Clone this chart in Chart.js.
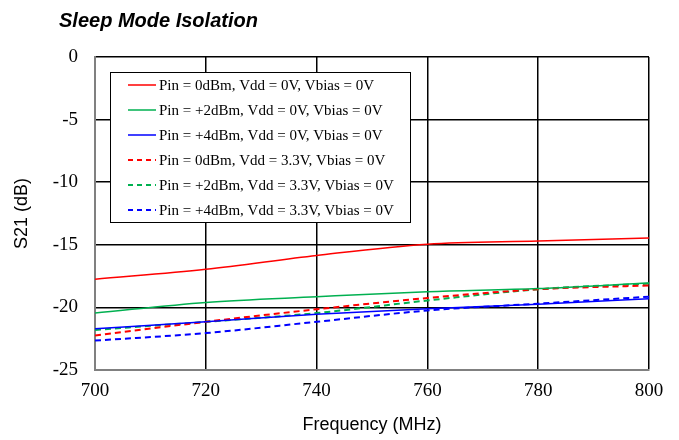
<!DOCTYPE html>
<html>
<head>
<meta charset="utf-8">
<script src="https://cdn.jsdelivr.net/npm/chart.js@4.4.1/dist/chart.umd.min.js"></script>
<style>
  html, body { margin: 0; padding: 0; background: #fff; }
  #wrap { width: 679px; height: 440px; position: relative; }
</style>
</head>
<body>
<div id="wrap"><canvas id="sleepChart"></canvas></div>
<script>
// Frequency (MHz)
const freqs = [700, 720, 740, 760, 780, 800];
const yTicks = [0, -5, -10, -15, -20, -25];

// S21 (dB)
const pin0Vdd0 = [-17.75, -16.95, -15.85, -14.95, -14.7, -14.45];
const pin2Vdd0 = [-20.45, -19.6, -19.15, -18.75, -18.5, -18.05];
const pin4Vdd0 = [-21.7, -21.15, -20.55, -20.1, -19.75, -19.3];
const pin0Vdd33 = [-22.25, -21.15, -20.15, -19.25, -18.55, -18.25];
const pin2Vdd33 = [-21.8, -21.15, -20.45, -19.45, -18.55, -18.1];
const pin4Vdd33 = [-22.65, -22.05, -21.15, -20.25, -19.7, -19.15];

const seriesLabels = [
    'Pin = 0dBm, Vdd = 0V, Vbias = 0V',
    'Pin = +2dBm, Vdd = 0V, Vbias = 0V',
    'Pin = +4dBm, Vdd = 0V, Vbias = 0V',
    'Pin = 0dBm, Vdd = 3.3V, Vbias = 0V',
    'Pin = +2dBm, Vdd = 3.3V, Vbias = 0V',
    'Pin = +4dBm, Vdd = 3.3V, Vbias = 0V'
];

const RED = '#ff0000', GREEN = '#00b050', BLUE = '#0000ff';

function makeSet(label, values, color, dashed) {
    return {
        label: label,
        data: values.map((v, i) => ({ x: freqs[i], y: v })),
        borderColor: color,
        backgroundColor: color,
        borderWidth: dashed ? 2 : 1.5,
        borderDash: dashed ? [6, 4] : [],
        pointRadius: 0,
        cubicInterpolationMode: 'monotone',
        fill: false
    };
}

// title, axis titles and the boxed legend
const decorPlugin = {
    id: 'decor',
    afterDraw(chart) {
        const ctx = chart.ctx;
        const area = chart.chartArea;
        ctx.save();
        ctx.fillStyle = '#000';
        ctx.font = 'italic bold 20px "Liberation Sans", Arial, sans-serif';
        ctx.textAlign = 'left';
        ctx.textBaseline = 'alphabetic';
        ctx.fillText('Sleep Mode Isolation', 59, 27);

        ctx.font = '18px "Liberation Sans", Arial, sans-serif';
        ctx.textAlign = 'center';
        ctx.textBaseline = 'middle';
        ctx.fillText('Frequency (MHz)', (area.left + area.right) / 2, 425);
        ctx.translate(22, (area.top + area.bottom) / 2);
        ctx.rotate(-Math.PI / 2);
        ctx.fillText('S21 (dB)', 0, 0);
        ctx.restore();

        // legend box
        ctx.save();
        const bx = 110.5, by = 72.5, bw = 300, bh = 150;
        ctx.fillStyle = '#fff';
        ctx.fillRect(bx, by, bw, bh);
        ctx.strokeStyle = '#000';
        ctx.lineWidth = 1;
        ctx.strokeRect(bx, by, bw, bh);
        ctx.font = '15px "Liberation Serif", "Times New Roman", serif';
        ctx.textAlign = 'left';
        ctx.textBaseline = 'middle';
        chart.data.datasets.forEach((ds, i) => {
            const y = 85 + i * 25;
            ctx.beginPath();
            ctx.strokeStyle = ds.borderColor;
            ctx.lineWidth = ds.borderWidth;
            ctx.setLineDash(ds.borderDash.length ? [5, 4] : []);
            ctx.moveTo(128, y);
            ctx.lineTo(156, y);
            ctx.stroke();
            ctx.setLineDash([]);
            ctx.fillStyle = '#000';
            ctx.fillText(ds.label, 159, y + 1);
        });
        ctx.restore();
    }
};

new Chart(document.getElementById('sleepChart'), {
    type: 'line',
    data: {
        datasets: [
            makeSet(seriesLabels[0], pin0Vdd0, RED, false),
            makeSet(seriesLabels[1], pin2Vdd0, GREEN, false),
            makeSet(seriesLabels[2], pin4Vdd0, BLUE, false),
            makeSet(seriesLabels[3], pin0Vdd33, RED, true),
            makeSet(seriesLabels[4], pin2Vdd33, GREEN, true),
            makeSet(seriesLabels[5], pin4Vdd33, BLUE, true)
        ]
    },
    options: {
        responsive: true,
        maintainAspectRatio: false,
        animation: false,
        layout: { padding: { top: 57, right: 30, bottom: 0, left: 0 } },
        plugins: {
            legend: { display: false },
            title: { display: false },
            tooltip: { enabled: false }
        },
        scales: {
            x: {
                type: 'linear',
                min: 700,
                max: 800,
                afterBuildTicks: s => { s.ticks = freqs.map(v => ({ value: v })); },
                afterFit: s => { s.height = 70; },
                grid: { color: '#000', lineWidth: 1.5, drawTicks: false },
                border: { color: '#808080', width: 2 },
                ticks: {
                    color: '#000',
                    padding: 10,
                    font: { family: '"Liberation Serif", "Times New Roman", serif', size: 19 }
                }
            },
            y: {
                min: -25,
                max: 0,
                afterBuildTicks: s => { s.ticks = yTicks.map(v => ({ value: v })); },
                afterFit: s => { s.width = 95; },
                grid: { color: '#000', lineWidth: 1.5, drawTicks: false },
                border: { color: '#808080', width: 2 },
                ticks: {
                    color: '#000',
                    padding: 17,
                    font: { family: '"Liberation Serif", "Times New Roman", serif', size: 19 }
                }
            }
        }
    },
    plugins: [decorPlugin]
});
</script>
</body>
</html>
